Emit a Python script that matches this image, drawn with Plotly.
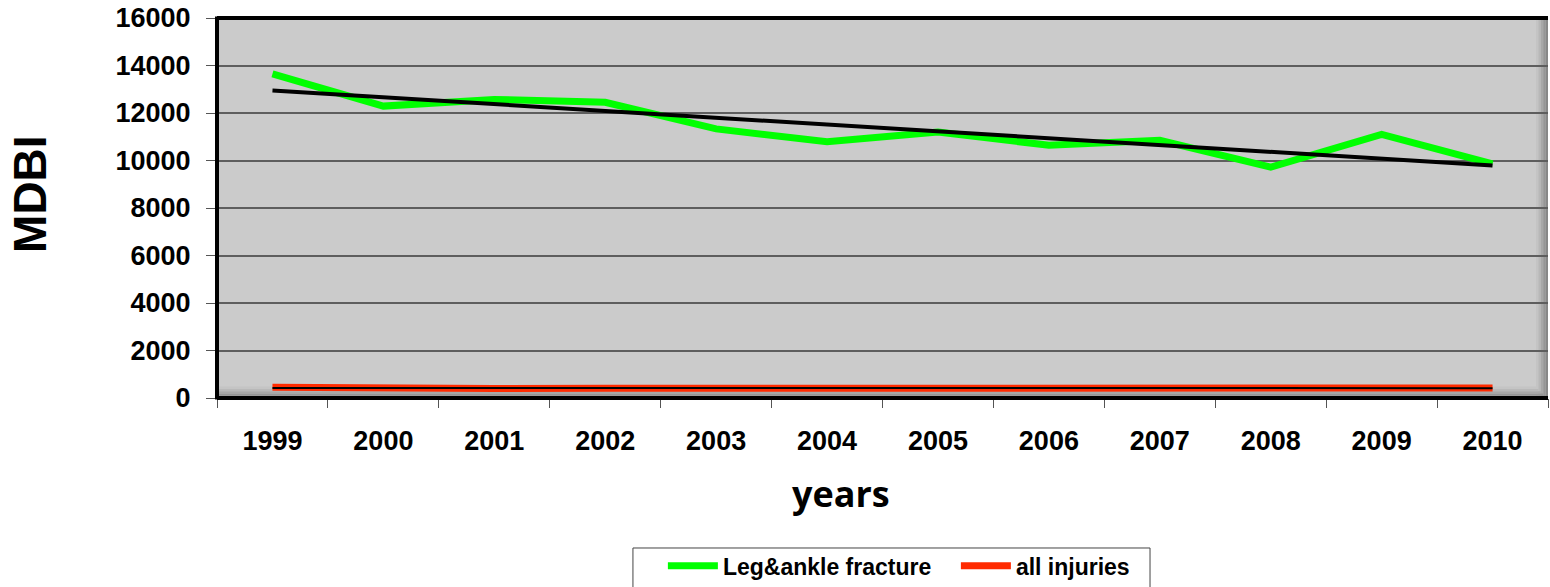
import plotly.graph_objects as go

years = ["1999", "2000", "2001", "2002", "2003", "2004", "2005", "2006", "2007", "2008", "2009", "2010"]
leg_ankle = [13650, 12290, 12570, 12450, 11330, 10790, 11200, 10640, 10850, 9720, 11100, 9860]
all_injuries = [450, 390, 400, 410, 410, 410, 410, 400, 380, 420, 450, 420]
trend_years = ["1999", "2010"]
leg_ankle_trend = [12950, 9790]
all_injuries_trend = [425, 415]
y_ticks = [0, 2000, 4000, 6000, 8000, 10000, 12000, 14000, 16000]

FONT = "Liberation Sans, Arial, sans-serif"

fig = go.Figure()
fig.add_trace(go.Scatter(x=years, y=leg_ankle, mode="lines", name="Leg&ankle fracture",
                         line=dict(color="#00ff00", width=7)))
fig.add_trace(go.Scatter(x=trend_years, y=leg_ankle_trend, mode="lines", showlegend=False,
                         line=dict(color="black", width=4)))
fig.add_trace(go.Scatter(x=years, y=all_injuries, mode="lines", name="all injuries",
                         line=dict(color="#ff2a00", width=7)))
fig.add_trace(go.Scatter(x=trend_years, y=all_injuries_trend, mode="lines", showlegend=False,
                         line=dict(color="black", width=2)))

shapes = []
shades = ["#c4c4c4", "#b8b8b8", "#a8a8a8", "#969696", "#888888"]
for i, c in enumerate(shades):
    shapes.append(dict(type="rect", xref="paper", yref="paper", x0=1 - (5 - i) * 0.0018, x1=1 - (4 - i) * 0.0018,
                       y0=0, y1=1, fillcolor=c, line=dict(width=0), layer="below"))
for i, c in enumerate(shades):
    shapes.append(dict(type="rect", xref="paper", yref="paper", x0=0, x1=1 - (5 - i) * 0.0018,
                       y0=(4 - i) * 0.006, y1=(5 - i) * 0.006, fillcolor=c, line=dict(width=0), layer="below"))
shapes.append(dict(type="line", xref="paper", yref="paper", x0=0, x1=0, y0=-0.004, y1=1.004,
                   line=dict(color="black", width=4)))
shapes.append(dict(type="line", xref="paper", yref="paper", x0=0, x1=1, y0=1, y1=1,
                   line=dict(color="black", width=4)))
shapes.append(dict(type="line", xref="paper", yref="paper", x0=0, x1=1, y0=0, y1=0,
                   line=dict(color="black", width=4)))
# legend frame
shapes.append(dict(type="rect", xref="paper", yref="paper", x0=0.3125, x1=0.701, y0=-0.52, y1=-0.3947,
                   line=dict(color="#444444", width=1), fillcolor="white", layer="below"))

annotations = [
    dict(text="years", xref="paper", yref="paper", x=0.469, y=-0.2526, xanchor="center", yanchor="middle",
         showarrow=False, font=dict(family="Open Sans, Lato, sans-serif", size=36, weight="bold", color="black")),
    dict(text="MDBI", xref="paper", yref="paper", x=-0.1405, y=0.537, xanchor="center", yanchor="middle",
         textangle=-90, showarrow=False, font=dict(family=FONT, size=46, weight="bold", color="black")),
]

fig.update_layout(
    width=1550, height=587,
    margin=dict(l=217, r=2, t=18, b=189, autoexpand=False),
    paper_bgcolor="white",
    plot_bgcolor="#cbcbcb",
    font=dict(family=FONT, color="black"),
    shapes=shapes,
    annotations=annotations,
    showlegend=True,
    legend=dict(orientation="h", x=0.335, xanchor="left", y=-0.385, yanchor="top",
                bgcolor="rgba(0,0,0,0)", borderwidth=0,
                font=dict(family=FONT, size=23, weight="bold"),
                itemwidth=50, entrywidth=228),
)
fig.update_xaxes(
    type="category", range=[-0.5, 11.5], automargin=False,
    showgrid=False, zeroline=False, showline=False,
    ticks="outside", tickson="boundaries", ticklen=9, tickcolor="#555555", tickwidth=1,
    tickfont=dict(family=FONT, size=27, weight="bold"),
    ticklabelstandoff=24,
)
fig.update_yaxes(
    range=[0, 16000], tickvals=y_ticks, ticktext=[str(v) for v in y_ticks], automargin=False,
    showgrid=True, gridcolor="#5e5e5e", gridwidth=1.5, zeroline=False, showline=False,
    ticks="outside", ticklen=10, tickcolor="#555555", tickwidth=1,
    tickfont=dict(family=FONT, size=27, weight="bold"),
    ticklabelstandoff=10,
)

fig.write_html("out.html", config={"displayModeBar": False},
               post_script="document.body.style.margin='0';document.body.style.overflow='hidden';")
